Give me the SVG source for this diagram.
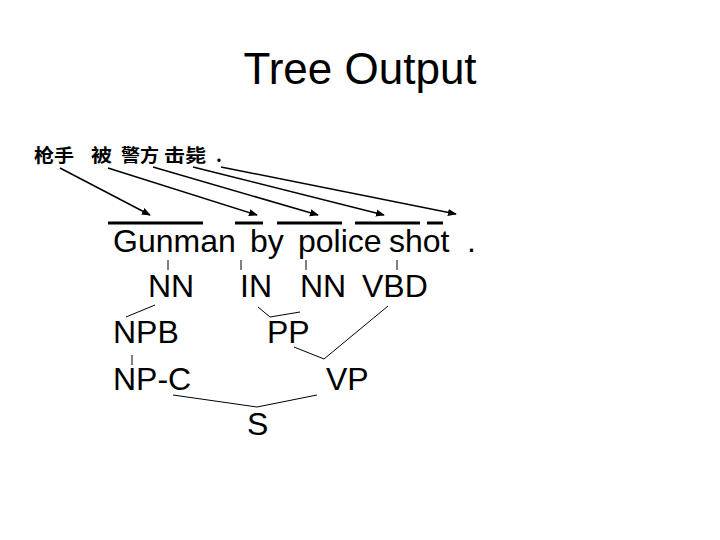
<svg xmlns="http://www.w3.org/2000/svg" width="720" height="540" viewBox="0 0 720 540">
<style>
.t{font-family:"Liberation Sans",Arial,sans-serif;fill:#000}
.lbl{font-size:32px}
.zh{font-family:"Noto Sans CJK SC","Liberation Sans",sans-serif;font-size:18px;font-weight:bold;fill:#000}
.arr{stroke:#000;stroke-width:1.5;fill:none;marker-end:url(#ah)}
.bar{stroke:#000;stroke-width:3}
.ln{stroke:#000;stroke-width:1;fill:none}
</style>
<defs>
<marker id="ah" viewBox="0 0 10 10" refX="9" refY="5" markerWidth="6" markerHeight="6" orient="auto" markerUnits="strokeWidth">
<path d="M0,1 L10,5 L0,9 z" fill="#000"/>
</marker>
</defs>
<rect width="720" height="540" fill="#fff"/>
<text class="t" x="360" y="84" font-size="44" text-anchor="middle">Tree Output</text>
<g id="source">
<text class="zh" x="34" y="162" textLength="40" lengthAdjust="spacingAndGlyphs">枪手</text>
<text class="zh" x="91" y="162" textLength="21" lengthAdjust="spacingAndGlyphs">被</text>
<text class="zh" x="121" y="162" textLength="38" lengthAdjust="spacingAndGlyphs">警方</text>
<text class="zh" x="164" y="162" textLength="42" lengthAdjust="spacingAndGlyphs">击毙</text>
<text class="zh" x="216" y="162">.</text>
</g>
<g id="alignment">
<path class="arr" d="M60,168 L150,215"/>
<path class="arr" d="M108,168 L257,215"/>
<path class="arr" d="M153,167 L318,215"/>
<path class="arr" d="M193,167 L384,215"/>
<path class="arr" d="M221,167 L456,214"/>
</g>
<g id="bars">
<line class="bar" x1="108" y1="223" x2="203" y2="223"/>
<line class="bar" x1="235" y1="223" x2="263" y2="223"/>
<line class="bar" x1="277" y1="223" x2="342" y2="223"/>
<line class="bar" x1="355" y1="223" x2="420" y2="223"/>
<line class="bar" x1="427" y1="223" x2="443" y2="223"/>
</g>
<g id="words">
<text class="t lbl" x="113" y="252">Gunman</text>
<text class="t lbl" x="250" y="252">by</text>
<text class="t lbl" x="298" y="252">police</text>
<text class="t lbl" x="389" y="252">shot</text>
<text class="t lbl" x="467" y="252">.</text>
</g>
<g id="connectors">
<line class="ln" x1="168" y1="260" x2="168" y2="270"/>
<line class="ln" x1="241" y1="260" x2="241" y2="270"/>
<line class="ln" x1="306" y1="260" x2="306" y2="270"/>
<line class="ln" x1="397" y1="260" x2="397" y2="270"/>
<line class="ln" x1="155" y1="305" x2="126" y2="317"/>
<polyline class="ln" points="258,307 270,317 300,312"/>
<polyline class="ln" points="388,306 324,359 294,347"/>
<line class="ln" x1="132" y1="355" x2="132" y2="365"/>
<polyline class="ln" points="173,395 257,407 317,395"/>
</g>
<g id="NN1"><text class="t lbl" x="148" y="297">NN</text></g>
<g id="IN"><text class="t lbl" x="240" y="297">IN</text></g>
<g id="NN2"><text class="t lbl" x="300" y="297">NN</text></g>
<g id="VBD"><text class="t lbl" x="362" y="297">VBD</text></g>
<g id="NPB"><text class="t lbl" x="113" y="343">NPB</text></g>
<g id="PP"><text class="t lbl" x="267" y="343">PP</text></g>
<g id="NPC"><text class="t lbl" x="113" y="390">NP-C</text></g>
<g id="VP"><text class="t lbl" x="326" y="390">VP</text></g>
<g id="S"><text class="t lbl" x="247" y="435">S</text></g>
</svg>
